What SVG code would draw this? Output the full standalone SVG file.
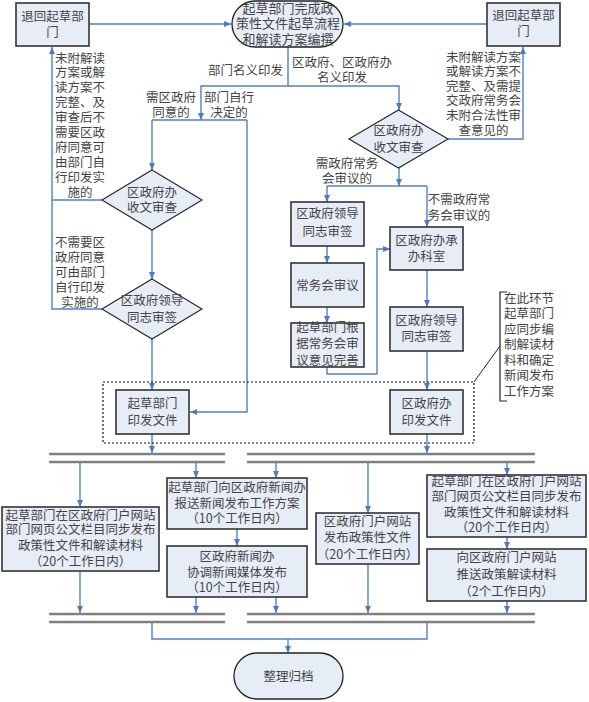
<svg xmlns="http://www.w3.org/2000/svg" width="589" height="702" viewBox="0 0 589 702">
<defs>
<marker id="ah" markerWidth="7" markerHeight="6" refX="7" refY="3" orient="auto" markerUnits="userSpaceOnUse">
<path d="M0,0 L7,3 L0,6 Z" fill="#4a7cc4"/>
</marker>
<style>
.bx{fill:#e7edf7;stroke:#333;stroke-width:1.6}
.dm{fill:#e7edf7;stroke:#2a2a2a;stroke-width:1.2}
.tm{fill:#e7edf7;stroke:#222;stroke-width:1.3}
.cn{fill:none;stroke:#4f81c7;stroke-width:1.4}
.ar{marker-end:url(#ah)}
.bar{stroke:#7f7f7f;stroke-width:2.5}
text{font-family:"Noto Sans CJK SC","Noto Sans CJK TC",sans-serif;font-size:12.5px;fill:#444}
.c{text-anchor:middle}
.l{text-anchor:start}
.t13{font-size:13px}
</style>
</defs>
<rect width="589" height="702" fill="#ffffff"/>

<g id="connectors">
<path class="cn ar" d="M89,24 H231"/>
<path class="cn ar" d="M487,24 H344"/>
<path class="cn ar" d="M288,47 V86 H201 V120"/>
<path class="cn" d="M152,120 H247"/>
<path class="cn ar" d="M152,120 V170"/>
<path class="cn ar" d="M247,120 V412 H190"/>
<path class="cn ar" d="M288,86 H399 V110"/>
<path class="cn ar" d="M102,200 H52 V47"/>
<path class="cn" d="M102,309 H52 V200"/>
<path class="cn ar" d="M152,230 V279"/>
<path class="cn ar" d="M152,339 V390"/>
<path class="cn ar" d="M448,139 H523 V47"/>
<path class="cn ar" d="M399,168 V186"/>
<path class="cn" d="M327,186 H427"/>
<path class="cn ar" d="M327,186 V202"/>
<path class="cn ar" d="M427,186 V227"/>
<path class="cn ar" d="M327,246 V263"/>
<path class="cn ar" d="M327,307 V323"/>
<path class="cn ar" d="M327,367 V374 H377 V249 H390"/>
<path class="cn ar" d="M427,270 V307"/>
<path class="cn ar" d="M427,351 V390"/>
<path class="cn ar" d="M152,434 V453"/>
<path class="cn ar" d="M427,434 V453"/>
<path class="cn ar" d="M80,463 V507"/>
<path class="cn ar" d="M196,463 V478"/>
<path class="cn ar" d="M276,463 V478"/>
<path class="cn ar" d="M368,463 V513"/>
<path class="cn ar" d="M507,463 V475"/>
<path class="cn ar" d="M237,529 V546"/>
<path class="cn ar" d="M507,537 V549"/>
<path class="cn ar" d="M80,571 V613"/>
<path class="cn ar" d="M196,597 V613"/>
<path class="cn ar" d="M276,597 V613"/>
<path class="cn ar" d="M368,564 V613"/>
<path class="cn ar" d="M507,601 V613"/>
<path class="cn" d="M152,623 V639 H427 V623"/>
<path class="cn ar" d="M288,639 V653"/>
</g>

<g id="bars">
<line class="bar" x1="49" y1="454" x2="225" y2="454"/>
<line class="bar" x1="49" y1="462" x2="225" y2="462"/>
<line class="bar" x1="247" y1="454" x2="535" y2="454"/>
<line class="bar" x1="247" y1="462" x2="535" y2="462"/>
<line class="bar" x1="49" y1="614" x2="225" y2="614"/>
<line class="bar" x1="49" y1="622" x2="225" y2="622"/>
<line class="bar" x1="247" y1="614" x2="535" y2="614"/>
<line class="bar" x1="247" y1="622" x2="535" y2="622"/>
</g>

<g id="dotted-frame">
<rect x="103" y="382" width="371" height="61" fill="none" stroke="#111" stroke-width="1.2" stroke-dasharray="2,2"/>
</g>

<g id="note">
<path d="M474,382 L500,346" fill="none" stroke="#222" stroke-width="1"/>
<path d="M507,292 H500 V401 H507" fill="none" stroke="#222" stroke-width="1.2"/>
<text class="l" x="504" y="302.5">在此环节</text>
<text class="l" x="504" y="318">起草部门</text>
<text class="l" x="504" y="333.5">应同步编</text>
<text class="l" x="504" y="349">制解读材</text>
<text class="l" x="504" y="364.5">料和确定</text>
<text class="l" x="504" y="380">新闻发布</text>
<text class="l" x="504" y="395.5">工作方案</text>
</g>

<g id="start">
<rect class="tm" x="232" y="1" width="111" height="46" rx="23" ry="23"/>
<text class="c t13" x="288" y="12.5">起草部门完成政</text>
<text class="c t13" x="288" y="28">策性文件起草流程</text>
<text class="c t13" x="288" y="43.5">和解读方案编撰</text>
</g>

<g id="return-left">
<rect class="bx" x="16" y="3" width="73" height="43"/>
<text class="c" x="52.5" y="20.5">退回起草部</text>
<text class="c" x="52.5" y="36.5">门</text>
</g>

<g id="return-right">
<rect class="bx" x="487" y="3" width="73" height="43"/>
<text class="c" x="523.5" y="20">退回起草部</text>
<text class="c" x="523.5" y="36">门</text>
</g>

<g id="labels">
<text class="c" x="245.5" y="74.5">部门名义印发</text>
<text class="c" x="342" y="66.5">区政府、区政府办</text>
<text class="c" x="342" y="81.5">名义印发</text>
<text class="c" x="171" y="101.5">需区政府</text>
<text class="c" x="171" y="116.5">同意的</text>
<text class="c" x="229" y="101.5">部门自行</text>
<text class="c" x="229" y="116.5">决定的</text>
<text class="c" x="80" y="62.5">未附解读</text>
<text class="c" x="80" y="77.4">方案或解</text>
<text class="c" x="80" y="92.3">读方案不</text>
<text class="c" x="80" y="107.2">完整、及</text>
<text class="c" x="80" y="122.1">审查后不</text>
<text class="c" x="80" y="137">需要区政</text>
<text class="c" x="80" y="151.9">府同意可</text>
<text class="c" x="80" y="166.8">由部门自</text>
<text class="c" x="80" y="181.7">行印发实</text>
<text class="c" x="80" y="196.6">施的</text>
<text class="c" x="80" y="246.5">不需要区</text>
<text class="c" x="80" y="261.5">政府同意</text>
<text class="c" x="80" y="276.5">可由部门</text>
<text class="c" x="80" y="291.5">自行印发</text>
<text class="c" x="80" y="306.5">实施的</text>
<text class="c" x="483.5" y="61.5">未附解读方案</text>
<text class="c" x="483.5" y="76">或解读方案不</text>
<text class="c" x="483.5" y="90.5">完整、及需提</text>
<text class="c" x="483.5" y="105">交政府常务会</text>
<text class="c" x="483.5" y="119.5">未附合法性审</text>
<text class="c" x="483.5" y="134.5">查意见的</text>
<text class="c" x="347" y="167.5">需政府常务</text>
<text class="c" x="347" y="182.5">会审议的</text>
<text class="c" x="459" y="203.5">不需政府常</text>
<text class="c" x="459" y="219.5">务会审议的</text>
</g>

<g id="diamond-left-1">
<polygon class="dm" points="152,170 202,200 152,230 102,200"/>
<text class="c" x="152" y="196.5">区政府办</text>
<text class="c" x="152" y="212">收文审查</text>
</g>

<g id="diamond-left-2">
<polygon class="dm" points="152,279 202,309 152,339 102,309"/>
<text class="c" x="152" y="304.5">区政府领导</text>
<text class="c" x="152" y="321.5">同志审签</text>
</g>

<g id="diamond-right">
<polygon class="dm" points="398.5,110 448,139 398.5,168 349,139"/>
<text class="c" x="398.5" y="134.5">区政府办</text>
<text class="c" x="398.5" y="151.5">收文审查</text>
</g>

<g id="box-dept-issue">
<rect class="bx" x="116" y="390" width="73" height="44"/>
<text class="c" x="152.5" y="407.5">起草部门</text>
<text class="c" x="152.5" y="424.5">印发文件</text>
</g>

<g id="box-office-issue">
<rect class="bx" x="390" y="390" width="73" height="44"/>
<text class="c" x="426.5" y="407.5">区政府办</text>
<text class="c" x="426.5" y="424.5">印发文件</text>
</g>

<g id="box-leader-a">
<rect class="bx" x="291" y="202" width="73" height="44"/>
<text class="c" x="327.5" y="217.5">区政府领导</text>
<text class="c" x="327.5" y="235.5">同志审签</text>
</g>

<g id="box-council">
<rect class="bx" x="291" y="263" width="73" height="44"/>
<text class="c" x="327.5" y="289.5">常务会审议</text>
</g>

<g id="box-revise">
<rect class="bx" x="291" y="323" width="73" height="44"/>
<text class="c" x="327.5" y="331.5">起草部门根</text>
<text class="c" x="327.5" y="347.5">据常务会审</text>
<text class="c" x="327.5" y="364.5">议意见完善</text>
</g>

<g id="box-handling">
<rect class="bx" x="390" y="227" width="73" height="43"/>
<text class="c" x="426.5" y="244.5">区政府办承</text>
<text class="c" x="426.5" y="260.5">办科室</text>
</g>

<g id="box-leader-b">
<rect class="bx" x="390" y="307" width="73" height="44"/>
<text class="c" x="426.5" y="325">区政府领导</text>
<text class="c" x="426.5" y="341">同志审签</text>
</g>

<g id="box-b1">
<rect class="bx" x="2" y="507" width="157" height="64"/>
<text class="c" x="80.5" y="519.5">起草部门在区政府门户网站</text>
<text class="c" x="80.5" y="534">部门网页公文栏目同步发布</text>
<text class="c" x="80.5" y="549.5">政策性文件和解读材料</text>
<text class="c" x="80.5" y="565.5">（20个工作日内）</text>
</g>

<g id="box-b2">
<rect class="bx" x="167" y="478" width="140" height="51"/>
<text class="c" x="237" y="491.5">起草部门向区政府新闻办</text>
<text class="c" x="237" y="507.5">报送新闻发布工作方案</text>
<text class="c" x="237" y="522.5">（10个工作日内）</text>
</g>

<g id="box-b3">
<rect class="bx" x="167" y="546" width="140" height="51"/>
<text class="c" x="237" y="560.5">区政府新闻办</text>
<text class="c" x="237" y="576.5">协调新闻媒体发布</text>
<text class="c" x="237" y="591.5">（10个工作日内）</text>
</g>

<g id="box-b4">
<rect class="bx" x="316" y="513" width="103" height="51"/>
<text class="c" x="367.5" y="525.5">区政府门户网站</text>
<text class="c" x="367.5" y="541.5">发布政策性文件</text>
<text class="c" x="367.5" y="558.5">（20个工作日内）</text>
</g>

<g id="box-b5">
<rect class="bx" x="427" y="475" width="159" height="62"/>
<text class="c" x="506.5" y="485.5">起草部门在区政府门户网站</text>
<text class="c" x="506.5" y="500.5">部门网页公文栏目同步发布</text>
<text class="c" x="506.5" y="516.5">政策性文件和解读材料</text>
<text class="c" x="506.5" y="531.5">（20个工作日内）</text>
</g>

<g id="box-b6">
<rect class="bx" x="427" y="549" width="159" height="52"/>
<text class="c" x="506.5" y="561.5">向区政府门户网站</text>
<text class="c" x="506.5" y="578.5">推送政策解读材料</text>
<text class="c" x="506.5" y="595.5">（2个工作日内）</text>
</g>

<g id="end">
<rect class="tm" x="234" y="653" width="109" height="46" rx="23" ry="23"/>
<text class="c" x="288.5" y="680.5">整理归档</text>
</g>
</svg>
